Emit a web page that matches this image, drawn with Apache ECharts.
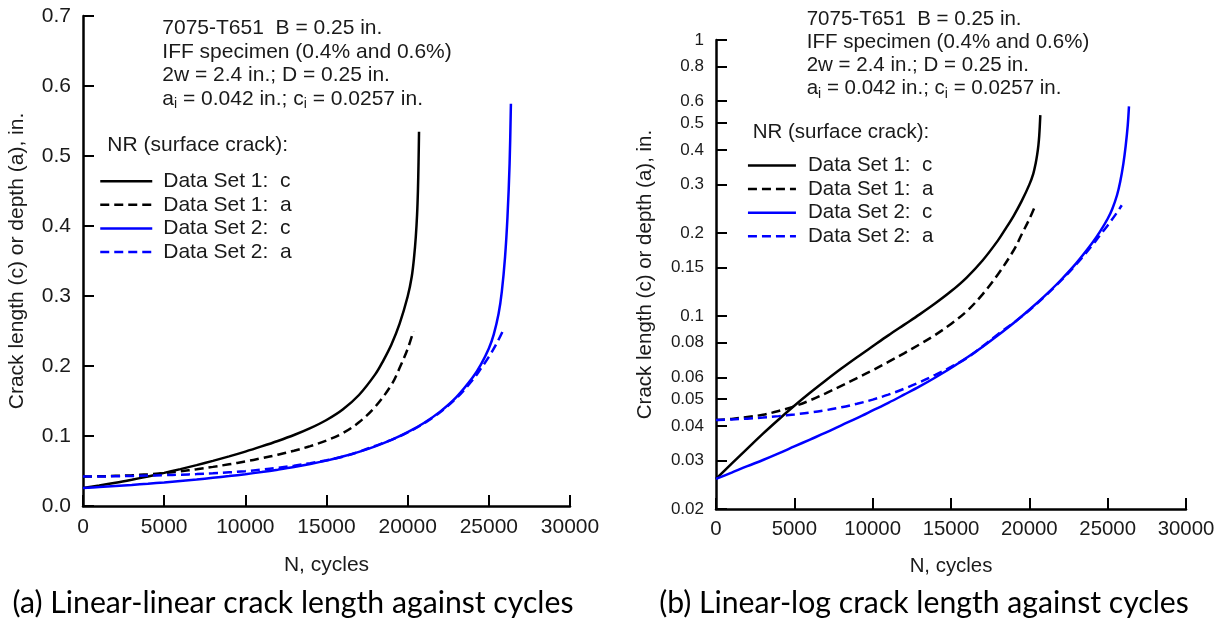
<!DOCTYPE html>
<html>
<head>
<meta charset="utf-8">
<script src="https://cdn.jsdelivr.net/npm/echarts@6/dist/echarts.min.js"></script>
<style>
  html, body { margin: 0; padding: 0; background: #ffffff; }
  #chart { width: 1224px; height: 620px; }
</style>
</head>
<body>
<div id="chart"></div>
<script>
// NR surface-crack predictions, 7075-T651 IFF specimen.
// c = surface crack half-length, a = crack depth (in.), N = load cycles.

const set1CycC = [0, 1000, 2000, 3000, 4000, 5000, 6000, 7000, 8000, 9000, 10000, 11000, 12000, 13000, 14000, 15000, 16000, 17000, 18000, 18500, 19000, 19500, 20000, 20250, 20400, 20500, 20580, 20630, 20670, 20700];
const set1C    = [0.0257, 0.0292, 0.0331, 0.0375, 0.0422, 0.0473, 0.0527, 0.0584, 0.0645, 0.0709, 0.0777, 0.0851, 0.0929, 0.1014, 0.1112, 0.1229, 0.1379, 0.1586, 0.188, 0.2078, 0.2308, 0.2602, 0.2993, 0.3275, 0.3565, 0.3843, 0.4163, 0.4487, 0.491, 0.5346];

const set1CycA = [0, 1000, 2000, 3000, 4000, 5000, 6000, 7000, 8000, 9000, 10000, 11000, 12000, 13000, 14000, 15000, 16000, 17000, 18000, 19000, 19500, 20000, 20350];
const set1A    = [0.042, 0.0424, 0.0431, 0.0439, 0.0453, 0.0471, 0.0495, 0.0525, 0.0559, 0.0596, 0.0636, 0.0682, 0.0733, 0.079, 0.0855, 0.0936, 0.104, 0.1196, 0.1417, 0.1731, 0.197, 0.2245, 0.2493];

const set2CycC = [0, 1000, 2000, 3000, 4000, 5000, 6000, 7000, 8000, 9000, 10000, 11000, 12000, 13000, 14000, 15000, 16000, 17000, 18000, 19000, 20000, 21000, 22000, 23000, 24000, 24500, 25000, 25300, 25600, 25800, 26000, 26150, 26280, 26360];
const set2C    = [0.0257, 0.0271, 0.0286, 0.0301, 0.0318, 0.0337, 0.0357, 0.0378, 0.0402, 0.0427, 0.0455, 0.0485, 0.0519, 0.0556, 0.0599, 0.0648, 0.0706, 0.0773, 0.0852, 0.0944, 0.1054, 0.1186, 0.1348, 0.1555, 0.1834, 0.2017, 0.2251, 0.2449, 0.2745, 0.3064, 0.356, 0.4135, 0.4897, 0.5747];

const set2CycA = [0, 1000, 2000, 3000, 4000, 5000, 6000, 7000, 8000, 9000, 10000, 11000, 12000, 13000, 14000, 15000, 16000, 17000, 18000, 19000, 20000, 21000, 22000, 23000, 24000, 24500, 25000, 25500, 25900];
const set2A    = [0.042, 0.0422, 0.0425, 0.0429, 0.0434, 0.044, 0.0447, 0.0456, 0.0467, 0.0481, 0.0498, 0.0519, 0.0545, 0.0576, 0.0612, 0.0654, 0.0704, 0.0775, 0.086, 0.0945, 0.105, 0.118, 0.134, 0.154, 0.18, 0.196, 0.213, 0.233, 0.252];

const seriesNames = ['Data Set 1:  c', 'Data Set 1:  a', 'Data Set 2:  c', 'Data Set 2:  a'];

const cycleTicks = [0, 5000, 10000, 15000, 20000, 25000, 30000];
const logTicks = [0.02, 0.03, 0.04, 0.05, 0.06, 0.08, 0.1, 0.15, 0.2, 0.3, 0.4, 0.5, 0.6, 0.8, 1];

const noteLines = [
  '7075-T651  B = 0.25 in.',
  'IFF specimen (0.4% and 0.6%)',
  '2w = 2.4 in.; D = 0.25 in.'
];
const legendTitle = 'NR (surface crack):';
const captions = [
  '(a) Linear-linear crack length against cycles',
  '(b) Linear-log crack length against cycles'
];
const xTitle = 'N, cycles';
const yTitle = 'Crack length (c) or depth (a), in.';

const FONT = '"Liberation Sans", Arial, Helvetica, sans-serif';
const CAPTION_FONT = 'Lato, "Open Sans", sans-serif';
const INK = '#1a1a1a';
const BLUE = '#0000ff';
const DASH = [9, 5];

function pairs(xs, ys) { return xs.map((x, i) => [x, ys[i]]); }

const curveDefs = [
  { name: seriesNames[0], data: pairs(set1CycC, set1C), color: '#000000', dashed: false },
  { name: seriesNames[1], data: pairs(set1CycA, set1A), color: '#000000', dashed: true },
  { name: seriesNames[2], data: pairs(set2CycC, set2C), color: BLUE, dashed: false },
  { name: seriesNames[3], data: pairs(set2CycA, set2A), color: BLUE, dashed: true }
];

function makeSeries(axisIndex) {
  return curveDefs.map(d => ({
    type: 'line',
    name: d.name,
    xAxisIndex: axisIndex,
    yAxisIndex: axisIndex,
    data: d.data,
    symbol: 'none',
    showSymbol: false,
    smooth: 0.35,
    clip: false,
    lineStyle: { color: d.color, width: 2.5, type: d.dashed ? DASH : 'solid' },
    itemStyle: { color: d.color },
    emphasis: { disabled: true }
  }));
}

function xAxisCfg(gridIndex, fontSize, margin, nameGap) {
  return {
    type: 'value', gridIndex, min: 0, max: 30000, interval: 5000,
    name: xTitle, nameLocation: 'middle', nameGap,
    nameTextStyle: { fontFamily: FONT, fontSize, color: INK },
    axisLine: { show: true, onZero: false, lineStyle: { color: '#000', width: 2.5 } },
    axisTick: { show: true, inside: true, length: 11, lineStyle: { color: '#000', width: 2 }, customValues: cycleTicks },
    axisLabel: { fontFamily: FONT, fontSize, color: INK, margin, customValues: cycleTicks, formatter: v => String(v) },
    splitLine: { show: false }
  };
}

function legendCfg(left, top, itemWidth, fontSize, gap) {
  return {
    left, top, orient: 'vertical', padding: 0, itemGap: 0,
    itemWidth, itemHeight: 3, selectedMode: false,
    itemStyle: { opacity: 0 },
    lineStyle: { width: 2.5 },
    textStyle: { fontFamily: FONT, fontSize, color: INK, lineHeight: 23.6, padding: [0, 0, 0, gap] },
    data: seriesNames
  };
}

const chart = echarts.init(document.getElementById('chart'), null, { renderer: 'canvas' });

const option = {
  animation: false,
  backgroundColor: '#ffffff',
  grid: [
    { left: 83, top: 16, width: 487, height: 490 },
    { left: 716, top: 40, width: 470, height: 469 }
  ],
  xAxis: [
    xAxisCfg(0, 21, 11, 49),
    xAxisCfg(1, 20.4, 10, 47)
  ],
  yAxis: [
    {
      type: 'value', gridIndex: 0, min: 0, max: 0.7, interval: 0.1,
      name: yTitle, nameLocation: 'middle', nameRotate: 90, nameGap: 55,
      nameTextStyle: { fontFamily: FONT, fontSize: 21, color: INK },
      axisLine: { show: true, onZero: false, lineStyle: { color: '#000', width: 2.5 } },
      axisTick: { show: true, inside: true, length: 11, lineStyle: { color: '#000', width: 2 } },
      axisLabel: { fontFamily: FONT, fontSize: 21, color: INK, margin: 12, formatter: v => v.toFixed(1) },
      splitLine: { show: false }
    },
    {
      type: 'log', logBase: 10, gridIndex: 1, min: 0.02, max: 1,
      name: yTitle, nameLocation: 'middle', nameRotate: 90, nameGap: 60,
      nameTextStyle: { fontFamily: FONT, fontSize: 20.5, color: INK },
      axisLine: { show: true, onZero: false, lineStyle: { color: '#000', width: 2.5 } },
      axisTick: { show: true, inside: true, length: 11, lineStyle: { color: '#000', width: 2 }, customValues: logTicks },
      axisLabel: { fontFamily: FONT, fontSize: 17, color: INK, margin: 12, customValues: logTicks, formatter: v => String(+Number(v).toPrecision(2)) },
      splitLine: { show: false },
      minorTick: { show: false }
    }
  ],
  legend: [
    legendCfg(99, 169.4, 52, 21, 6),
    legendCfg(746.7, 153.7, 48, 20.5, 7)
  ],
  series: [...makeSeries(0), ...makeSeries(1)],
  graphic: []
};

// Specimen notes and legend heading for each panel
function noteBlock(x, y0, step, size, legendX, legendY) {
  const els = noteLines.map((t, i) => ({
    type: 'text', x, y: y0 + step * i, silent: true,
    style: { text: t, fontFamily: FONT, fontSize: size, fill: INK, verticalAlign: 'middle', align: 'left' }
  }));
  els.push({
    type: 'text', x, y: y0 + step * 3, silent: true,
    style: {
      text: '{m|a}{s|i}{m| = 0.042 in.; c}{s|i}{m| = 0.0257 in.}',
      fill: INK, verticalAlign: 'middle', align: 'left',
      rich: {
        m: { fontFamily: FONT, fontSize: size, lineHeight: 24, fill: INK },
        s: { fontFamily: FONT, fontSize: 14, lineHeight: 6, verticalAlign: 'bottom', fill: INK }
      }
    }
  });
  els.push({
    type: 'text', x: legendX, y: legendY, silent: true,
    style: { text: legendTitle, fontFamily: FONT, fontSize: size, fill: INK, verticalAlign: 'middle', align: 'left' }
  });
  return els;
}

option.graphic.push(...noteBlock(162.3, 28.3, 23.5, 21, 107.3, 145));
option.graphic.push(...noteBlock(806.7, 19.5, 23.1, 20.5, 752.7, 132.5));

// Panel captions
option.graphic.push(
  { type: 'text', x: 293, y: 603, silent: true,
    style: { text: captions[0], fontFamily: CAPTION_FONT, fontSize: 30.2, fill: '#000', align: 'center', verticalAlign: 'middle' } },
  { type: 'text', x: 924, y: 603, silent: true,
    style: { text: captions[1], fontFamily: CAPTION_FONT, fontSize: 30.2, fill: '#000', align: 'center', verticalAlign: 'middle' } }
);

chart.setOption(option);
</script>
</body>
</html>
